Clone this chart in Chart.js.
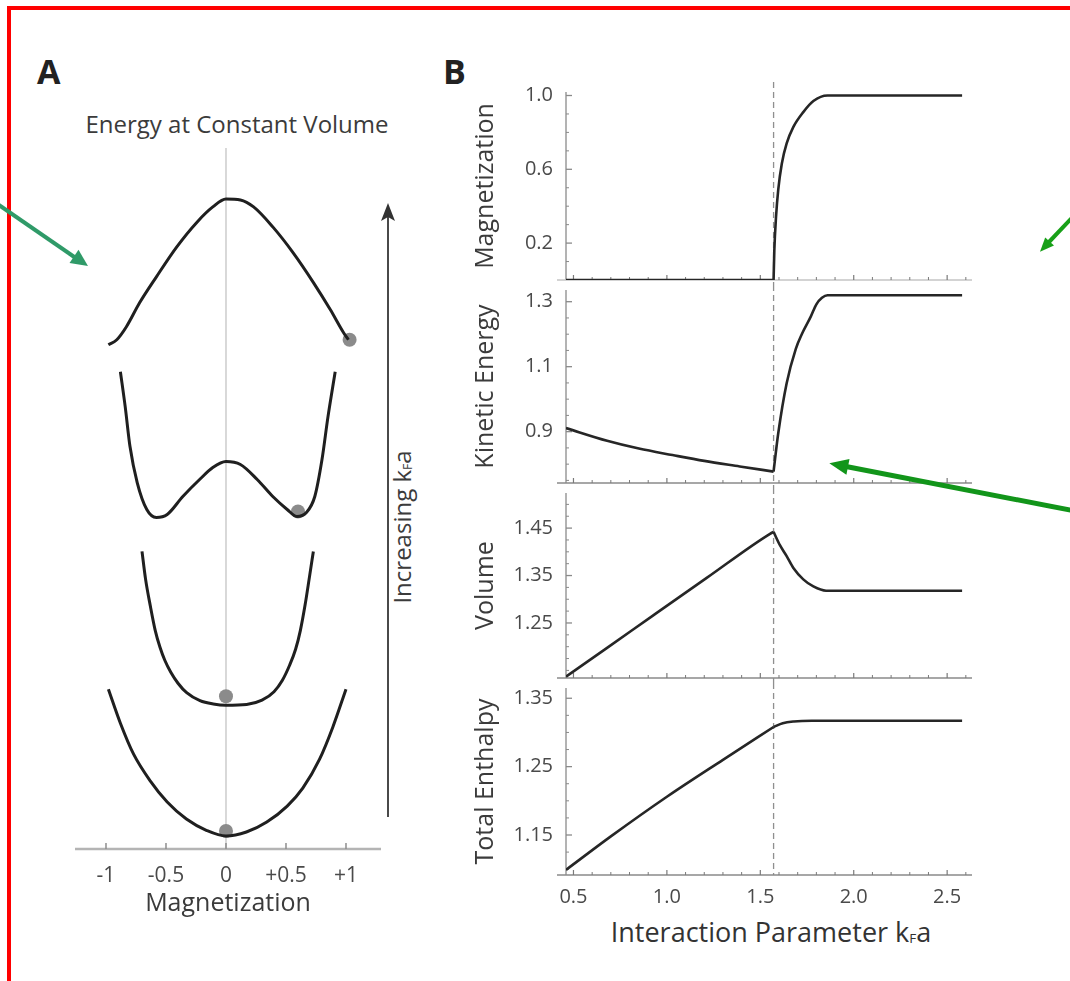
<!DOCTYPE html>
<html>
<head>
<meta charset="utf-8">
<title>Energy landscape and Stoner transition</title>
<script src="https://cdn.jsdelivr.net/npm/chart.js@4.4.1/dist/chart.umd.min.js"></script>
<style>
  html, body { margin:0; padding:0; background:#fff; }
  body { width:1070px; height:981px; overflow:hidden; position:relative; font-family:"Open Sans", "DejaVu Sans", sans-serif; color:#3b3b3b; }
  #frame { position:absolute; left:7px; top:6px; width:1300px; height:1300px; border-left:4px solid #ff0000; border-top:4px solid #ff0000; box-sizing:border-box; }
  canvas { position:absolute; }
  .lbl { position:absolute; white-space:nowrap; }
  .panel { font-weight:700; font-size:34px; line-height:34px; color:#222; }
  .kf { font-size:0.5em; vertical-align:-0.1em; }
  svg { position:absolute; left:0; top:0; }
</style>
</head>
<body>
<div id="frame"></div>
<div class="lbl panel" style="left:37px; top:54px;">A</div>
<div class="lbl panel" style="left:443px; top:54px;">B</div>
<div class="lbl" style="left:37px; width:400px; text-align:center; top:112px; font-size:24px; line-height:24px;">Energy at Constant Volume</div>
<div class="lbl" style="left:405px; top:527px; font-size:24px; line-height:24px; transform:translate(-50%,-50%) rotate(-90deg);">Increasing k<span class="kf">F</span>a</div>
<div class="lbl" style="left:571px; width:400px; text-align:center; top:918px; font-size:27px; line-height:27px; color:#333;">Interaction Parameter k<span class="kf">F</span>a</div>

<canvas id="cA" width="390" height="830" style="left:40px; top:128px;"></canvas>
<canvas id="cM" width="560" height="248" style="left:450px; top:62px;"></canvas>
<canvas id="cK" width="560" height="253" style="left:450px; top:260px;"></canvas>
<canvas id="cV" width="560" height="245" style="left:450px; top:463px;"></canvas>
<canvas id="cH" width="560" height="277" style="left:450px; top:658px;"></canvas>

<svg width="1070" height="981">
  <line x1="388" y1="216" x2="388" y2="817" stroke="#4a4a4a" stroke-width="2"/>
  <polygon points="388,203 381,221 388,217 395,221" fill="#333"/>
  <line x1="-4" y1="203" x2="75" y2="257.5" stroke="#2f9a68" stroke-width="4"/>
  <polygon points="88,266 69.5,263 78.5,249.8" fill="#2f9a68"/>
  <line x1="1080" y1="209.3" x2="1049" y2="242" stroke="#18a018" stroke-width="4"/>
  <polygon points="1040,251.7 1054,245.6 1045.2,237.4" fill="#18a018"/>
  <line x1="1075" y1="511" x2="846" y2="466.5" stroke="#12951a" stroke-width="5"/>
  <polygon points="829.3,463.3 849.5,459.1 846.4,474.8" fill="#12951a"/>
</svg>

<script>
// ---------------- Panel A: energy vs magnetization (arbitrary energy units) ----------------
const magA1 = [-0.98,-0.91,-0.83,-0.72,-0.58,-0.41,-0.24,-0.11,0.0,0.12,0.23,0.39,0.56,0.73,0.87,0.98,1.02];
const energyA1 = [5.05,5.10,5.23,5.47,5.73,6.03,6.28,6.43,6.51,6.50,6.43,6.23,5.97,5.67,5.40,5.17,5.10];
const magA2 = [-0.88,-0.84,-0.80,-0.74,-0.66,-0.58,-0.49,-0.36,-0.22,-0.11,0.0,0.12,0.26,0.39,0.51,0.59,0.67,0.74,0.80,0.85,0.91];
const energyA2 = [4.78,4.43,4.03,3.67,3.40,3.32,3.35,3.53,3.70,3.82,3.88,3.85,3.70,3.53,3.40,3.33,3.37,3.53,3.90,4.33,4.78];
const magA3 = [-0.70,-0.67,-0.63,-0.59,-0.55,-0.51,-0.46,-0.40,-0.328,-0.217,-0.106,0.0,0.172,0.30,0.40,0.47,0.53,0.58,0.62,0.66,0.695,0.728];
const energyA3 = [2.98,2.70,2.43,2.19,2.02,1.89,1.77,1.66,1.565,1.485,1.452,1.44,1.447,1.49,1.575,1.69,1.84,2.0,2.19,2.45,2.72,2.98];
const magA4 = [-0.98,-0.88,-0.77,-0.63,-0.49,-0.33,-0.16,0.0,0.17,0.34,0.51,0.64,0.78,0.89,1.0];
const energyA4 = [1.60,1.26,0.95,0.68,0.47,0.30,0.185,0.13,0.17,0.27,0.43,0.61,0.90,1.22,1.60];
const stateMag = [1.03, 0.60, 0.0, 0.0];
const stateEnergy = [5.10, 3.38, 1.53, 0.18];
const magATickValues = [-1, -0.5, 0, 0.5, 1];
const magATickLabels = ['-1', '-0.5', '0', '+0.5', '+1'];

// ---------------- Panel B: quantities vs interaction parameter kFa ----------------
const transitionKFa = [1.571];
const kfaMag = [0.46, 1.0, 1.571, 1.575, 1.584, 1.596, 1.615, 1.641, 1.677, 1.73, 1.784, 1.86, 2.2, 2.58];
const magnetization = [0, 0, 0, 0.16, 0.34, 0.49, 0.63, 0.74, 0.83, 0.91, 0.97, 1.0, 1.0, 1.0];
const kfaKE = [0.46, 0.68, 0.85, 1.03, 1.2, 1.39, 1.571, 1.596, 1.641, 1.69, 1.722, 1.77, 1.80, 1.83, 1.86, 2.2, 2.58];
const kineticEnergy = [0.911, 0.872, 0.848, 0.828, 0.81, 0.793, 0.777, 0.895, 1.049, 1.155, 1.20, 1.254, 1.292, 1.312, 1.32, 1.32, 1.32];
const kfaVol = [0.46, 0.678, 0.927, 1.213, 1.552, 1.571, 1.605, 1.641, 1.677, 1.73, 1.784, 1.852, 2.2, 2.58];
const volume = [1.137, 1.197, 1.266, 1.345, 1.438, 1.442, 1.414, 1.391, 1.366, 1.342, 1.327, 1.318, 1.318, 1.318];
const kfaEnth = [0.46, 0.7, 1.0, 1.3, 1.571, 1.62, 1.68, 1.775, 2.2, 2.58];
const enthalpy = [1.099, 1.148, 1.206, 1.26, 1.308, 1.3135, 1.316, 1.317, 1.317, 1.317];

const xTickValues = [0.5, 1.0, 1.5, 2.0, 2.5];
const xTickLabels = ['0.5', '1.0', '1.5', '2.0', '2.5'];
const xMinorTicks = [0.6,0.7,0.8,0.9,1.1,1.2,1.3,1.4,1.6,1.7,1.8,1.9,2.1,2.2,2.3,2.4,2.6];
const magTickValues = [0.2, 0.6, 1.0];
const magTickLabels = ['0.2', '0.6', '1.0'];
const magMinorTicks = [0.1,0.3,0.4,0.5,0.7,0.8,0.9];
const keTickValues = [0.9, 1.1, 1.3];
const keTickLabels = ['0.9', '1.1', '1.3'];
const keMinorTicks = [0.75,0.8,0.85,0.95,1.0,1.05,1.15,1.2,1.25];
const volTickValues = [1.25, 1.35, 1.45];
const volTickLabels = ['1.25', '1.35', '1.45'];
const volMinorTicks = [1.15,1.175,1.2,1.225,1.275,1.3,1.325,1.375,1.4,1.425,1.475,1.5];
const enthTickValues = [1.15, 1.25, 1.35];
const enthTickLabels = ['1.15', '1.25', '1.35'];
const enthMinorTicks = [1.1,1.125,1.175,1.2,1.225,1.275,1.3,1.325];

Chart.defaults.font.family = "'Open Sans', 'DejaVu Sans', sans-serif";
Chart.defaults.color = '#4a4a4a';

function toPoints(xs, ys) { return xs.map((v, i) => ({ x: v, y: ys[i] })); }

// ---------- Panel A chart ----------
const panelAPlugin = {
  id: 'panelA',
  beforeDatasetsDraw(chart) {
    const { ctx, chartArea: a, scales: { x } } = chart;
    ctx.save();
    const x0 = x.getPixelForValue(0);
    ctx.strokeStyle = '#c4c4c4'; ctx.lineWidth = 1.3;
    ctx.beginPath(); ctx.moveTo(x0, a.top); ctx.lineTo(x0, a.bottom); ctx.stroke();
    ctx.strokeStyle = '#b4b4b4'; ctx.lineWidth = 2.6;
    ctx.beginPath(); ctx.moveTo(a.left, a.bottom); ctx.lineTo(a.right, a.bottom); ctx.stroke();
    ctx.strokeStyle = '#8e8e8e'; ctx.lineWidth = 1.5;
    magATickValues.forEach(v => {
      const p = x.getPixelForValue(v);
      ctx.beginPath(); ctx.moveTo(p, a.bottom); ctx.lineTo(p, a.bottom - 6); ctx.stroke();
    });
    ctx.restore();
  }
};

const curveStyle = { showLine: true, borderColor: '#1f1f1f', borderWidth: 3, pointRadius: 0, cubicInterpolationMode: 'monotone', fill: false };

new Chart(document.getElementById('cA'), {
  type: 'scatter',
  data: {
    datasets: [
      Object.assign({ data: toPoints(magA1, energyA1) }, curveStyle),
      Object.assign({ data: toPoints(magA2, energyA2) }, curveStyle),
      Object.assign({ data: toPoints(magA3, energyA3) }, curveStyle),
      Object.assign({ data: toPoints(magA4, energyA4) }, curveStyle),
      { data: toPoints(stateMag, stateEnergy), showLine: false, pointRadius: 7, pointBackgroundColor: '#8b8b8b', pointBorderWidth: 0 }
    ]
  },
  options: {
    responsive: false, animation: false, events: [],
    layout: { padding: { left: 35, right: 49, top: 20, bottom: 35 } },
    plugins: { legend: { display: false }, tooltip: { enabled: false } },
    scales: {
      x: {
        type: 'linear', min: -1.2583, max: 1.2917,
        grid: { display: false, drawTicks: false }, border: { display: false },
        afterBuildTicks: s => { s.ticks = magATickValues.map(v => ({ value: v })); },
        afterFit: s => { s.height = 74; },
        ticks: { autoSkip: false, maxRotation: 0, padding: 14, color: '#4a4a4a', font: { size: 21 }, callback: (v, i) => magATickLabels[i] },
        title: { display: true, text: 'Magnetization', color: '#3b3b3b', font: { size: 25 }, padding: { top: 4, bottom: 4 } }
      },
      y: { type: 'linear', min: 0, max: 7.02, display: false }
    }
  },
  plugins: [panelAPlugin]
});

// ---------- Panel B charts ----------
function panelBPlugin(key, yMajor, yMinor, axisColor, dashUp, dashDown) {
  return {
    id: 'pb' + key,
    beforeDatasetsDraw(chart) {
      const { ctx, chartArea: a, scales: { x, y } } = chart;
      const seg = (x1, y1, x2, y2) => { ctx.beginPath(); ctx.moveTo(x1, y1); ctx.lineTo(x2, y2); ctx.stroke(); };
      ctx.save();
      const tx = x.getPixelForValue(transitionKFa[0]);
      ctx.strokeStyle = '#8f8f8f'; ctx.lineWidth = 1.3; ctx.setLineDash([6, 4]);
      seg(tx, a.top - dashUp, tx, a.bottom + dashDown);
      ctx.setLineDash([]);
      ctx.strokeStyle = '#8a8a8a'; ctx.lineWidth = 1.3;
      seg(a.left, a.top, a.left, a.bottom);
      yMajor.forEach(v => { const p = y.getPixelForValue(v); seg(a.left, p, a.left + 6, p); });
      ctx.lineWidth = 1;
      yMinor.forEach(v => { const p = y.getPixelForValue(v); seg(a.left, p, a.left + 3, p); });
      ctx.strokeStyle = axisColor; ctx.lineWidth = 1.6;
      seg(a.left - 9, a.bottom, a.right, a.bottom);
      ctx.strokeStyle = '#7a7a7a'; ctx.lineWidth = 1.2;
      xTickValues.forEach(v => { const p = x.getPixelForValue(v); seg(p, a.bottom, p, a.bottom - 5); });
      ctx.lineWidth = 1;
      xMinorTicks.forEach(v => { const p = x.getPixelForValue(v); seg(p, a.bottom, p, a.bottom - 3); });
      ctx.restore();
    }
  };
}

function panelBChart(id, xs, ys, yMin, yMax, title, tVals, tLabels, minor, axisColor, dashUp, dashDown, isBottom) {
  const pts = toPoints(xs, ys);
  const t = transitionKFa[0];
  const lineStyle = { showLine: true, borderColor: '#262626', borderWidth: 2.6, pointRadius: 0, cubicInterpolationMode: 'monotone', fill: false };
  return new Chart(document.getElementById(id), {
    type: 'scatter',
    data: {
      datasets: [
        Object.assign({ data: pts.filter(p => p.x <= t) }, lineStyle),
        Object.assign({ data: pts.filter(p => p.x >= t) }, lineStyle)
      ]
    },
    options: {
      responsive: false, animation: false, events: [],
      layout: { padding: { left: 0, right: 38, top: 30, bottom: isBottom ? 10 : 30 } },
      plugins: { legend: { display: false }, tooltip: { enabled: false } },
      scales: {
        x: {
          type: 'linear', min: 0.46, max: 2.633, display: isBottom,
          grid: { display: false, drawTicks: false }, border: { display: false },
          afterBuildTicks: s => { s.ticks = xTickValues.map(v => ({ value: v })); },
          afterFit: s => { s.height = isBottom ? 50 : 0; },
          ticks: { autoSkip: false, maxRotation: 0, padding: 10, color: '#4a4a4a', font: { size: 20 }, callback: (v, i) => xTickLabels[i] }
        },
        y: {
          type: 'linear', min: yMin, max: yMax, position: 'left',
          grid: { display: false, drawTicks: false }, border: { display: false },
          afterBuildTicks: s => { s.ticks = tVals.map(v => ({ value: v })); },
          afterFit: s => { s.width = 116; },
          ticks: { autoSkip: false, padding: 13, color: '#4a4a4a', font: { size: 20 }, callback: (v, i) => tLabels[i] },
          title: { display: true, text: title, color: '#3b3b3b', font: { size: 25 }, padding: { top: 20.5, bottom: 0 } }
        }
      }
    },
    plugins: [panelBPlugin(id, tVals, minor, axisColor, dashUp, dashDown)]
  });
}

panelBChart('cM', kfaMag, magnetization, 0, 1.019, 'Magnetization', magTickValues, magTickLabels, magMinorTicks, '#c4c4c4', 10, 5, false);
panelBChart('cK', kfaKE, kineticEnergy, 0.742, 1.336, 'Kinetic Energy', keTickValues, keTickLabels, keMinorTicks, '#8a8a8a', 5, 5, false);
panelBChart('cV', kfaVol, volume, 1.134, 1.524, 'Volume', volTickValues, volTickLabels, volMinorTicks, '#8a8a8a', 5, 5, false);
panelBChart('cH', kfaEnth, enthalpy, 1.0915, 1.365, 'Total Enthalpy', enthTickValues, enthTickLabels, enthMinorTicks, '#8a8a8a', 5, 0, true);
</script>
</body>
</html>
